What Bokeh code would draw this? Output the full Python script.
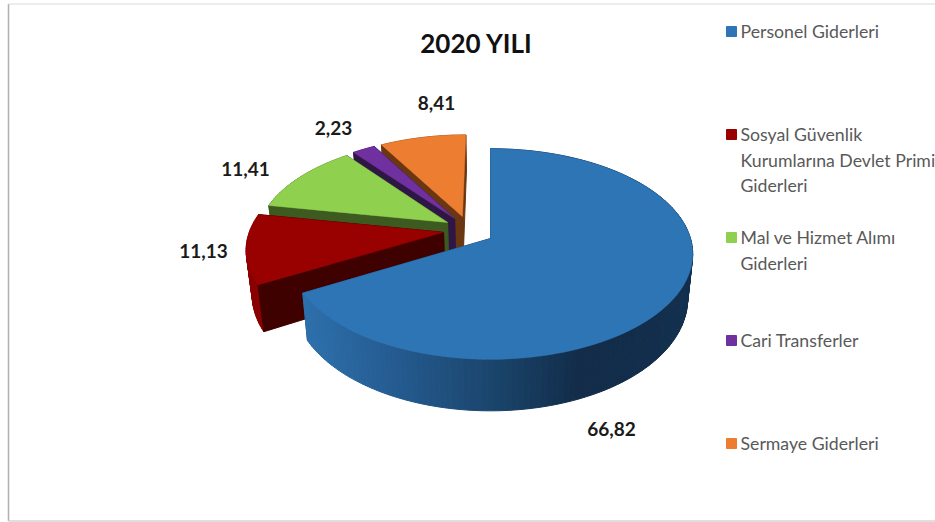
from math import sin, cos, radians
import numpy as np
from bokeh.plotting import figure
from bokeh.models import Range1d
from bokeh.core.properties import value
from bokeh.embed import file_html
from bokeh.resources import INLINE

# ---- data ----
title_text = "2020 YILI"
categories = ["Personel Giderleri",
              "Sosyal Güvenlik\nKurumlarına Devlet Primi\nGiderleri",
              "Mal ve Hizmet Alımı\nGiderleri",
              "Cari Transferler",
              "Sermaye Giderleri"]
shares = [66.82, 11.13, 11.41, 2.23, 8.41]

# ---- style ----
top_colors = ["#2e75b6", "#990000", "#8fd04f", "#7030a0", "#ed7d31"]
cut_colors = ["#1d4a75", "#3f0000", "#3d5a20", "#2f1745", "#6a3712"]
rim_colors = [None, "#8a0000", "#5f8c33", "#4b2070", "#a85520"]
# per-slice explosion offset on the disc plane, and slice radius factor
explode = [(0, 0), (-0.237, 0.06), (-0.22, 0.16), (-0.185, 0.2), (-0.145, 0.22)]
radius = [1, 0.98, 0.96, 0.96, 0.96]
label_pos = [(611, 428), (203, 250), (245, 168), (333, 127), (436, 102)]
legend_y = [31, 134, 237, 340, 443]
LINE_H = 25.6

# projection of the pie
CX, AY, RX, RY, K, DEPTH, SHRINK = 490, 238, 200, 103, 0.147, 44, 0.975


def project(X, Y, low=False):
    s = 1 / (1 + K * Y)
    x = CX + RX * X * s
    y = AY - RY * Y * s
    if low:
        x = CX + (x - CX) * SHRINK
        y = y + DEPTH * s
    return x, y


def rim_point(angle, off, r, low=False):
    a = radians(angle)
    return project(off[0] + r * sin(a), off[1] + r * cos(a), low)


blue_stops_x = [305, 400, 500, 580, 690]
blue_stops_c = [(46, 112, 172), (36, 90, 142), (26, 67, 105), (18, 44, 73), (18, 48, 78)]


def blue_side(x):
    c = [np.interp(x, blue_stops_x, [s[i] for s in blue_stops_c]) for i in range(3)]
    return "#%02x%02x%02x" % tuple(int(v) for v in c)


p = figure(width=935, height=522, output_backend="svg", toolbar_location=None,
           x_range=Range1d(0, 935), y_range=Range1d(522, 0),
           min_border=0, outline_line_color=None, background_fill_color="white")
p.axis.visible = False
p.grid.visible = False

# frame
p.line([8, 8], [3.5, 520.5], line_color="#b0b0b0", line_width=1.5)
p.line([8, 935], [520.5, 520.5], line_color="#d4d4d4", line_width=1.5)
p.line([8, 935], [3.5, 3.5], line_color="#d9d9d9", line_width=1)

# slice angular extents
edges = np.concatenate([[0], np.cumsum(shares)]) / sum(shares) * 360


def draw_cuts(i, a0, a1, off, r):
    ax, ay = project(off[0], off[1])
    lx, ly = project(off[0], off[1], True)
    for ang in (a0, a1):
        tx, ty = rim_point(ang, off, r)
        bx, by = rim_point(ang, off, r, True)
        p.patch([ax, tx, bx, lx], [ay, ty, by, ly], fill_color=cut_colors[i],
                line_color=cut_colors[i], line_width=1)


def draw_rim(i, a0, a1, off, r):
    steps = np.linspace(a0, a1, int((a1 - a0) / 1.5) + 2)
    for u, v in zip(steps[:-1], steps[1:]):
        x1, y1 = rim_point(u, off, r)
        x2, y2 = rim_point(v, off, r)
        x3, y3 = rim_point(v, off, r, True)
        x4, y4 = rim_point(u, off, r, True)
        col = blue_side((x1 + x2) / 2) if i == 0 else rim_colors[i]
        p.patch([x1, x2, x3, x4], [y1, y2, y3, y4], fill_color=col,
                line_color=col, line_width=1)


# back to front: orange, purple, green, red, then blue
for i in [4, 3, 2, 1, 0]:
    a0, a1 = edges[i], edges[i + 1]
    off, r = explode[i], radius[i]
    if i == 0:
        draw_cuts(i, a0, a1, off, r)
        draw_rim(i, a0, a1, off, r)
    else:
        draw_rim(i, a0, a1, off, r)
        draw_cuts(i, a0, a1, off, r)
    ax, ay = project(off[0], off[1])
    pts = [rim_point(t, off, r) for t in np.linspace(a0, a1, 120)]
    xs = [ax] + [q[0] for q in pts]
    ys = [ay] + [q[1] for q in pts]
    p.patch(xs, ys, fill_color=top_colors[i], line_color=top_colors[i], line_width=0.5)

# data labels
p.text([q[0] for q in label_pos], [q[1] for q in label_pos],
       text=[f"{v:.2f}".replace(".", ",") for v in shares],
       text_font=value("Lato"), text_font_style="bold", text_font_size="19px",
       text_color="#1a1a1a", text_align="center", text_baseline="middle")

# title
p.text([476], [42], text=[title_text], text_font=value("Lato"), text_font_style="bold",
       text_font_size="26px", text_color="#111111", text_align="center", text_baseline="middle")

# legend
p.scatter([731] * len(categories), legend_y, marker="square", size=10,
          fill_color=top_colors, line_color=top_colors)
lx_, ly_, lt_ = [], [], []
for cat, y in zip(categories, legend_y):
    for n, line in enumerate(cat.split("\n")):
        lx_.append(740)
        ly_.append(y + n * LINE_H)
        lt_.append(line)
p.text(lx_, ly_, text=lt_, text_font=value("Lato"), text_font_size="17.7px",
       text_color="#595959", text_align="left", text_baseline="middle")

open("out.html", "w").write(file_html(p, INLINE))
